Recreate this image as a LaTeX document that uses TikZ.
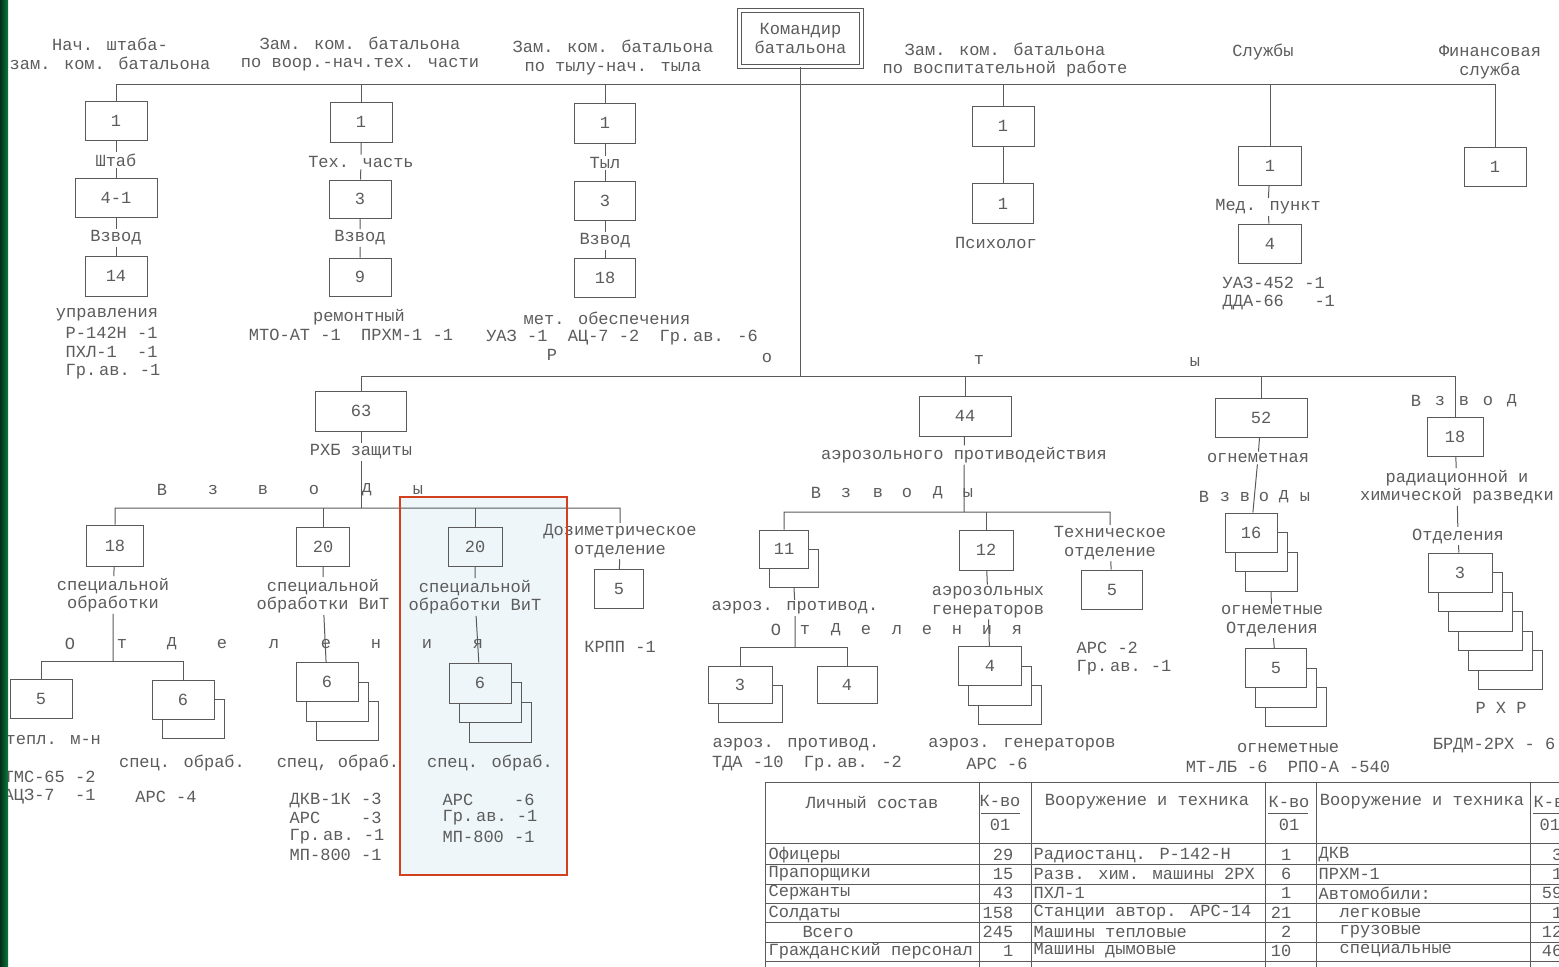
\documentclass[tikz,border=0pt]{standalone}
\usepackage{fontspec}
\setmainfont{Liberation Mono}
\definecolor{ln}{HTML}{5A5A5A}
\definecolor{tx}{HTML}{5C5C5C}
\definecolor{hl}{HTML}{EEF6F9}
\definecolor{hlb}{HTML}{D3401E}
\definecolor{gA}{HTML}{032E17}
\definecolor{gB}{HTML}{0B7A3D}
% #1 name, #2 x, #3 y, #4 w, #5 h, #6 copies, #7 text, #8 fill
\newcommand\stackbx[8]{%
  \foreach \k in {#6,...,1}{%
    \draw[cn, fill=#8] ({#2-#4/2+\k*10},{#3-#5/2+\k*19.5}) rectangle ++(#4,#5);%
  }%
  \coordinate (#1bk) at ({#2+#6*10},{#3+#5/2+#6*19.5});%
  \node[bx, fill=#8, minimum width=#4pt, minimum height=#5pt] (#1) at (#2,#3) {#7};%
}
\begin{document}
\begin{tikzpicture}[x=1pt,y=-1pt,
  every node/.style={font=\fontsize{17}{18.5}\selectfont, text=tx, inner sep=1.5pt, align=center},
  bx/.style={draw=ln, line width=1pt, fill=white, minimum width=61pt, minimum height=39pt, inner sep=0pt},
  cn/.style={draw=ln, line width=1pt},
  tl/.style={draw=ln, line width=0.9pt},
  ]
\useasboundingbox (0,0) rectangle (1559,967);
\fill[white] (0,0) rectangle (1559,967);
\fill[hl] (400,497) rectangle (567,875);
\coordinate (bus1) at (0,84);
\coordinate (bus2) at (0,376);
\coordinate (bus3) at (0,508);
\coordinate (bus4) at (0,661);
\coordinate (bus5) at (0,512);
\coordinate (bus6) at (0,647);

% ---------- top level ----------
\node[draw=ln, double=white, double distance=3pt, line width=0.9pt, minimum width=122pt, minimum height=56pt, inner sep=0pt] (cmd) at (800.5,38.5) {Командир\\батальона};
\node (hA) at (110,54) {Нач. штаба-\\зам. ком. батальона};
\node (hB) at (360,54) {Зам. ком. батальона\\по воор.-нач.тех. части};
\node (hC) at (613,57.5) {Зам. ком. батальона\\по тылу-нач. тыла};
\node (hD) at (1005,60) {Зам. ком. батальона\\по воспитательной работе};
\node (hE) at (1263,52) {Службы};
\node (hF) at (1490,62) {Финансовая\\служба};

% column 1
\node[bx, minimum width=62pt] (b1a) at (116,121) {1};
\node (l1a) at (116,160) {Штаб};
\node[bx, minimum width=82pt] (b1b) at (116,197.5) {4-1};
\node (l1b) at (116,238) {Взвод};
\node[bx, minimum width=62pt, minimum height=40pt] (b1c) at (116,276) {14};
\node (t1a) at (107,315) {управления};
\node[anchor=west] (t1b) at (64,333) {Р-142Н -1};
\node[anchor=west] (t1c) at (64,352) {ПХЛ-1~~-1};
\node[anchor=west] (t1d) at (64,372) {Гр.\,ав.~-1};

% column 2
\node[bx, minimum width=62pt, minimum height=40pt] (b2a) at (361,122) {1};
\node (l2a) at (361,162) {Тех. часть};
\node[bx, minimum width=62pt, minimum height=38pt] (b2b) at (360,199) {3};
\node (l2b) at (360,238) {Взвод};
\node[bx, minimum width=62pt, minimum height=38pt] (b2c) at (360,277) {9};
\node (t2a) at (359,317) {ремонтный};
\node (t2b) at (351,335) {МТО-АТ -1~~ПРХМ-1 -1};

% column 3
\node[bx, minimum height=40pt] (b3a) at (605,123) {1};
\node (l3a) at (605,163) {Тыл};
\node[bx] (b3b) at (605,201) {3};
\node (l3b) at (605,241) {Взвод};
\node[bx] (b3c) at (605,278) {18};
\node (t3a) at (607,318) {мет. обеспечения};
\node (t3b) at (622,338) {УАЗ -1~~АЦ-7 -2~~Гр.\,ав. -6};

% column 4
\node[bx, minimum width=62pt, minimum height=40pt] (ps1) at (1003,126) {1};
\node[bx, minimum height=40pt] (ps2) at (1003,203.5) {1};
\node (t4a) at (996,243) {Психолог};

% services
\node[bx, minimum width=63pt] (med1) at (1270,166) {1};
\node (lmed) at (1268,207) {Мед. пункт};
\node[bx, minimum width=63pt] (med2) at (1270,243.5) {4};
\node[anchor=west] (t5a) at (1221,283) {УАЗ-452 -1};
\node[anchor=west] (t5b) at (1221,303) {ДДА-66~~~-1};

% finance
\node[bx, minimum width=62pt] (fin) at (1495,167) {1};

% letters "Роты"
\node (r1) at (552,355) {Р};
\node (r2) at (767,358) {о};
\node (r3) at (979,360) {т};
\node (r4) at (1195,362) {ы};

% ---------- 63 subtree ----------
\node[bx, minimum width=91pt, minimum height=40pt] (b63) at (361,411) {63};
\node (l63) at (361,452) {РХБ защиты};
\foreach \c/\xx [count=\i] in {В/162,з/213,в/263,о/314,д/367,ы/418}
  \node (va\i) at (\xx,490) {\c};

\node[bx, minimum width=57pt, minimum height=41pt] (b18a) at (115,545.5) {18};
\node (l18a) at (113,595) {специальной\\обработки};
\foreach \c/\xx [count=\i] in {О/70,т/122,д/172,е/222,л/274,е/326,н/376,и/427,я/478}
  \node (oa\i) at (\xx,644) {\c};
\node[bx, minimum width=62pt] (b5a) at (41,698.5) {5};
\stackbx{b6a}{183}{699.5}{62}{39}{1}{6}{white}
\node[anchor=west] (t6a) at (4,740) {тепл. м-н};
\node[anchor=west] (t6b) at (2,777) {ТМС-65 -2};
\node[anchor=west] (t6c) at (2,797) {АЦЗ-7~~-1};
\node (t6d) at (182,763) {спец. обраб.};
\node (t6e) at (166,797) {АРС -4};

\node[bx, minimum width=53pt] (b20a) at (323,546.5) {20};
\node (l20a) at (323,596) {специальной\\обработки ВиТ};
\stackbx{b6b}{327}{682}{62}{39}{2}{6}{white}
\node (t7a) at (338,763) {спец, обраб.};
\node[anchor=west] (t7b) at (288,800) {ДКВ-1К -3};
\node[anchor=west] (t7c) at (288,818) {АРС~~~~-3};
\node[anchor=west] (t7d) at (288,837) {Гр.\,ав.~-1};
\node[anchor=west] (t7e) at (288,855) {МП-800 -1};

\node[bx, minimum width=54pt, fill=hl] (b20b) at (475,546.5) {20};
\node (l20b) at (475,597) {специальной\\обработки ВиТ};
\stackbx{b6c}{480}{683}{62}{40}{2}{6}{hl}
\node (t8a) at (490,763) {спец. обраб.};
\node[anchor=west] (t8b) at (441,800) {АРС~~~~-6};
\node[anchor=west] (t8c) at (441,818) {Гр.\,ав.~-1};
\node[anchor=west] (t8d) at (441,837) {МП-800 -1};

\coordinate (dz) at (620,508);
\node (ldoz) at (620,541) {Дозиметрическое\\отделение};
\node[bx, minimum width=49pt] (b5d) at (619,589) {5};
\node (t9a) at (620,647) {КРПП -1};

% ---------- 44 subtree ----------
\node[bx, minimum width=92pt, minimum height=40pt] (b44) at (965,416) {44};
\node (l44) at (964,455) {аэрозольного противодействия};
\foreach \c/\xx [count=\i] in {В/816,з/846,в/878,о/907,д/938,ы/968}
  \node (vb\i) at (\xx,493) {\c};
\stackbx{b11}{784}{549}{49}{38}{1}{11}{white}
\node (l11) at (795,608) {аэроз. противод.};
\foreach \c/\xx [count=\i] in {О/776,т/805,д/836,е/866,л/897,е/927,н/957,и/987,я/1017}
  \node (ob\i) at (\xx,630) {\c};
\stackbx{b3s}{740}{684.5}{64}{37}{1}{3}{white}
\node[bx, minimum width=60pt, minimum height=37pt] (b4s) at (847,684.5) {4};
\node (t10a) at (796,745) {аэроз. противод.};
\node (t10b) at (807,764) {ТДА -10~~Гр.\,ав. -2};

\node[bx, minimum width=54pt, minimum height=40pt] (b12) at (986,550) {12};
\node (l12) at (988,602) {аэрозольных\\генераторов};
\stackbx{b4g}{990}{666}{63}{39}{2}{4}{white}
\node (t11a) at (1022,745) {аэроз. генераторов};
\node (t11b) at (997,764) {АРС -6};

\coordinate (tc) at (1110,512);
\node (ltech) at (1110,543) {Техническое\\отделение};
\node[bx] (b5t) at (1112,589.5) {5};
\node[anchor=west] (t12a) at (1075,648) {АРС -2};
\node[anchor=west] (t12b) at (1075,668) {Гр.\,ав.~-1};

% ---------- 52 subtree ----------
\node[bx, minimum width=92pt] (b52) at (1261,417.5) {52};
\node (l52) at (1258,458) {огнеметная};
\foreach \c/\xx [count=\i] in {В/1204,з/1225,в/1245,о/1264,д/1284,ы/1305}
  \node (vc\i) at (\xx,497) {\c};
\stackbx{b16}{1251}{532.5}{52}{39}{2}{16}{white}
\node (lognm) at (1272,621) {огнеметные\\Отделения};
\stackbx{b5o}{1276}{668}{61}{39}{2}{5}{white}
\node (t13a) at (1288,748) {огнеметные};
\node (t13b) at (1288,767) {МТ-ЛБ -6~~РПО-А -540};

% ---------- RHR ----------
\foreach \c/\xx [count=\i] in {В/1416,з/1440,в/1464,о/1488,д/1512}
  \node (vd\i) at (\xx,401) {\c};
\node[bx, minimum width=56pt] (b18r) at (1455,437) {18};
\node (lrhr) at (1457,487) {радиационной и\\химической разведки};
\node (lotd) at (1458,536) {Отделения};
\stackbx{b3r}{1460}{572.5}{64}{39}{5}{3}{white}
\node (t14a) at (1501,708) {Р Х Р};
\node (t14b) at (1494,745) {БРДМ-2РХ - 6};

% ---------- connectors ----------
\draw[cn] (b1a) -- (b1a |- bus1) -- (fin |- bus1) -- (fin);
\foreach \n in {b2a,b3a,ps1,med1} \draw[cn] (\n) -- (\n |- bus1);
\draw[cn] (cmd) -- (cmd |- bus2);
\draw[cn] (b1a) -- (l1a) -- (b1b) -- (l1b) -- (b1c);
\draw[cn] (b2a) -- (l2a) -- (b2b) -- (l2b) -- (b2c);
\draw[cn] (b3a) -- (l3a) -- (b3b) -- (l3b) -- (b3c);
\draw[cn] (ps1) -- (ps2);
\draw[cn] (med1) -- (lmed) -- (med2);

\draw[cn] (b63) -- (b63 |- bus2) -- (b18r |- bus2) -- (b18r);
\draw[cn] (b44) -- (b44 |- bus2);
\draw[cn] (b52) -- (b52 |- bus2);

\draw[cn] (b63) -- (l63) -- (l63 |- bus3);
\draw[cn] (b18a) -- (b18a |- bus3) -- (dz) -- (ldoz) -- (b5d);
\draw[cn] (b20a) -- (b20a |- bus3);
\draw[cn] (b20b) -- (b20b |- bus3);
\draw[cn] (b18a) -- (l18a) -- (l18a |- bus4);
\draw[cn] (b5a) -- (b5a |- bus4) -- (b6a |- bus4) -- (b6a);
\draw[cn] (b20a) -- (l20a) -- (b6b);
\draw[cn] (b20b) -- (l20b) -- (b6c);

\draw[cn] (b44) -- (l44) -- (l44 |- bus5);
\draw[cn] (b11) -- (b11 |- bus5) -- (tc) -- (ltech) -- (b5t);
\draw[cn] (b12) -- (b12 |- bus5);
\draw[cn] (b11bk) -- (l11) -- (l11 |- bus6);
\draw[cn] (b3s) -- (b3s |- bus6) -- (b4s |- bus6) -- (b4s);
\draw[cn] (b12) -- (l12) -- (b4g);

\draw[cn] (b52) -- (l52) -- (b16);
\draw[cn] (b16bk) -- (lognm) -- (b5o);
\draw[cn] (b18r) -- (lrhr) -- (lotd) -- (b3r);

% ---------- table ----------
\draw[tl] (765,782) -- (1559,782);
\draw[tl] (765,843) -- (1559,843);
\foreach \yy in {864,884,903,922,942,961} \draw[tl] (765,\yy) -- (1559,\yy);
\foreach \xx in {765,979,1031,1265,1316,1530} \draw[tl] (\xx,782) -- (\xx,967);
\node (h1) at (872,803) {Личный состав};
\node (h2) at (1000,801) {К-во};
\node (h3) at (1000,825) {01};
\draw[tl] (981,813) -- (1020,813);
\node (h4) at (1147,802) {Вооружение и техника};
\node (h5) at (1289,802) {К-во};
\node (h6) at (1289,825) {01};
\draw[tl] (1268,813) -- (1308,813);
\node (h7) at (1422,802) {Вооружение и техника};
\node[anchor=west] (h8) at (1532,802) {К-во};
\node[anchor=west] (h9) at (1538,825) {01};
\draw[tl] (1533,813) -- (1559,813);

\node[anchor=west] (ta1) at (767,855) {Офицеры};
\node[anchor=west] (ta2) at (767,874) {Прапорщики};
\node[anchor=west] (ta3) at (767,893) {Сержанты};
\node[anchor=west] (ta4) at (767,913) {Солдаты};
\node (ta5) at (828,932) {Всего};
\node[anchor=west] (ta6) at (767,951) {Гражданский персонал};
\node[anchor=east] (tb1) at (1015,855) {29};
\node[anchor=east] (tb2) at (1015,874) {15};
\node[anchor=east] (tb3) at (1015,893) {43};
\node[anchor=east] (tb4) at (1015,913) {158};
\node[anchor=east] (tb5) at (1015,932) {245};
\node[anchor=east] (tb6) at (1015,951) {1};
\node[anchor=west] (tc1) at (1032,855) {Радиостанц. Р-142-Н};
\node[anchor=west] (tc2) at (1032,874) {Разв. хим. машины 2РХ};
\node[anchor=west] (tc3) at (1032,893) {ПХЛ-1};
\node[anchor=west] (tc4) at (1032,913) {Станции автор. АРС-14};
\node[anchor=west] (tc5) at (1032,932) {Машины тепловые};
\node[anchor=west] (tc6) at (1032,951) {Машины дымовые};
\node[anchor=east] (td1) at (1293,855) {1};
\node[anchor=east] (td2) at (1293,874) {6};
\node[anchor=east] (td3) at (1293,893) {1};
\node[anchor=east] (td4) at (1293,913) {21};
\node[anchor=east] (td5) at (1293,932) {2};
\node[anchor=east] (td6) at (1293,951) {10};
\node[anchor=west] (te1) at (1317,855) {ДКВ};
\node[anchor=west] (te2) at (1317,874) {ПРХМ-1};
\node[anchor=west] (te3) at (1317,893) {Автомобили:};
\node[anchor=west] (te4) at (1338,913) {легковые};
\node[anchor=west] (te5) at (1338,932) {грузовые};
\node[anchor=west] (te6) at (1338,951) {специальные};
\node[anchor=east] (tf1) at (1564,855) {3};
\node[anchor=east] (tf2) at (1564,874) {1};
\node[anchor=east] (tf3) at (1564,893) {59};
\node[anchor=east] (tf4) at (1564,913) {1};
\node[anchor=east] (tf5) at (1564,932) {12};
\node[anchor=east] (tf6) at (1564,951) {46};

% highlight border and left strip
\draw[hlb, line width=1.6pt] (400,497) rectangle (567,875);
\shade[left color=gA, right color=gB] (0,0) rectangle (8,967);
\end{tikzpicture}
\end{document}
